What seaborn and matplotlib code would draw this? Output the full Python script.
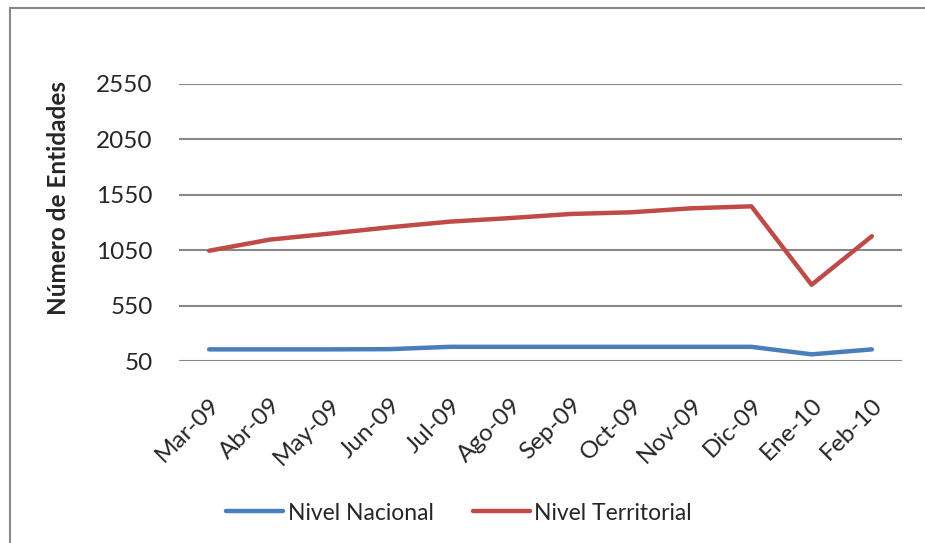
import matplotlib
matplotlib.use("Agg")
import matplotlib.pyplot as plt
import pandas as pd
import seaborn as sns
from matplotlib.patches import Rectangle

# datos
meses = ["Mar-09", "Abr-09", "May-09", "Jun-09", "Jul-09", "Ago-09",
         "Sep-09", "Oct-09", "Nov-09", "Dic-09", "Ene-10", "Feb-10"]
nacional = [155, 155, 155, 157, 178, 178, 178, 178, 178, 178, 110, 155]
territorial = [1045, 1145, 1200, 1257, 1308, 1340, 1377, 1392, 1428, 1446, 738, 1176]
yticks = [50, 550, 1050, 1550, 2050, 2550]

df = pd.DataFrame({
    "mes": meses * 2,
    "valor": nacional + territorial,
    "serie": ["Nivel Nacional"] * len(meses) + ["Nivel Territorial"] * len(meses),
})

sns.set_style("white")
plt.rcParams["font.family"] = ["Lato", "DejaVu Sans"]

fig = plt.figure(figsize=(9.25, 5.43), dpi=100)
ax = fig.add_axes([179 / 925, 1 - 361 / 543, 723 / 925, 277 / 543])

sns.lineplot(data=df, x="mes", y="valor", hue="serie", sort=False,
             palette={"Nivel Nacional": "#4A7EBB", "Nivel Territorial": "#BE4B48"},
             linewidth=3.2, ax=ax, legend=False)

ax.set_xlim(-0.5, len(meses) - 0.5)
ax.set_ylim(50, 2550)
ax.set_yticks(yticks)
ax.set_yticklabels([str(t) for t in yticks], fontsize=17.5)
ax.set_xticks(range(len(meses)))
ax.set_xticklabels(meses, rotation=45, ha="right", rotation_mode="anchor", fontsize=17.5)
ax.tick_params(axis="y", length=0, pad=19)
ax.tick_params(axis="x", length=0, pad=24)
ax.yaxis.grid(True, color="#888888", linewidth=1.5)
ax.set_axisbelow(True)
for s in ax.spines.values():
    s.set_visible(False)
ax.set_xlabel("")
ax.set_ylabel("Número de Entidades", fontsize=17.5, fontweight="bold")
ax.yaxis.set_label_coords(-0.151, 0.588)

# leyenda
handles = [plt.Line2D([], [], color="#4A7EBB", lw=3.2),
           plt.Line2D([], [], color="#BE4B48", lw=3.2)]
fig.legend(handles, ["Nivel Nacional", "Nivel Territorial"], loc="center",
           bbox_to_anchor=(459 / 925, 1 - 513 / 543), ncol=2, frameon=False,
           fontsize=16.5, handlelength=2.5, handletextpad=0.2, columnspacing=1.7)

# marco del grafico
fig.patches.append(Rectangle((10 / 925, -0.1), 1.2, 1.1 - 8 / 543,
                             transform=fig.transFigure, fill=False,
                             edgecolor="#888888", linewidth=1.5))

fig.savefig("out.png", dpi=100, facecolor="white")
